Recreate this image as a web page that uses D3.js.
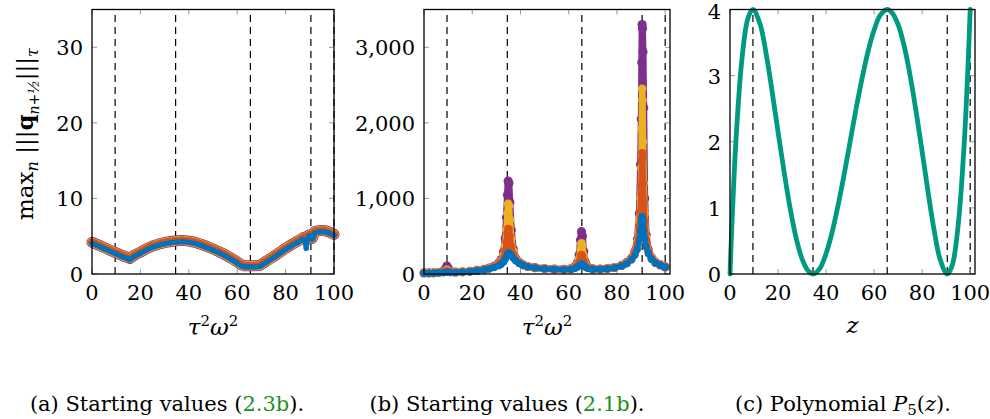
<!DOCTYPE html>
<html>
<head>
<meta charset="utf-8">
<script src="https://cdn.jsdelivr.net/npm/d3@7"></script>
<style>
  body { margin: 0; background: #fff; }
</style>
</head>
<body>
<svg id="svg"></svg>
<script>
// shared vertical markers (extrema of P5)
const markX = [9.55, 34.55, 65.45, 90.45, 100];

// panel (a): starting values (2.3b)
const xA = [0,2.5,5,7.5,10,12.5,15,15.7,17.5,20,22.5,25,27.5,30,32.5,35,37.5,40,42.5,45,47.5,50,52.5,55,57.5,60,61.5,63,65,67,69.5,72,75,77.5,80,82.5,85,87,88,88.5,89,89.5,90,91,92,94,96,98,100];
const aOrange = [4.2,3.85,3.5,3.15,2.8,2.45,2.15,2.05,2.5,2.9,3.35,3.7,3.95,4.15,4.3,4.4,4.45,4.35,4.2,3.95,3.65,3.3,2.95,2.55,2.1,1.6,1.25,1.1,1.1,1.1,1.15,1.7,2.3,2.85,3.4,3.9,4.35,4.75,4.9,4.5,5.0,5.1,5.2,4.7,5.6,5.75,5.75,5.55,5.25];
const aBlue = [4.05,3.7,3.35,3.0,2.65,2.3,2.0,1.9,2.35,2.75,3.2,3.55,3.8,4.0,4.15,4.25,4.3,4.2,4.05,3.8,3.5,3.15,2.8,2.4,1.95,1.45,1.1,0.95,0.95,0.95,1.0,1.55,2.15,2.7,3.25,3.75,4.2,4.6,4.3,3.4,4.6,4.95,5.05,4.6,5.45,5.6,5.6,5.4,5.1];

// panel (b): starting values (2.1b)
const xB = [0,2,4,6,8,9,9.5,10,11,13,16,19,22,25,27,29,31,32,33,33.7,34.2,34.6,34.9,35.2,35.6,36.2,37,38,39.5,41,43,46,50,54,58,61,62.5,63.5,64.3,64.9,65.3,65.7,66.2,67,68,70,73,76,79,82,84,86,87.5,88.5,89.3,89.8,90.1,90.3,90.45,90.6,90.8,91.1,91.5,92.1,93,94.5,96,98,100];
const bBlue = [10,10,12,14,18,22,26,24,20,20,25,32,42,55,68,85,110,130,160,195,230,260,275,280,270,245,210,175,140,115,95,80,68,62,58,62,72,88,110,128,135,130,112,88,72,62,62,68,80,105,135,185,250,330,450,580,680,740,760,740,680,580,470,360,270,190,145,115,90];
const bOrange = [12,12,14,16,22,32,40,34,24,22,27,34,45,58,72,92,125,155,210,300,420,540,600,590,500,360,260,190,145,118,97,82,70,64,60,66,82,110,160,225,255,235,170,110,80,65,64,70,83,110,142,200,280,400,620,820,1170,1500,1600,1550,1200,960,700,450,300,200,150,118,92];
const bYellow = [13,13,15,18,26,40,55,42,27,23,28,35,46,60,75,96,135,170,250,380,580,800,930,900,720,470,300,200,150,120,98,83,71,65,61,68,88,125,200,330,405,370,240,130,85,66,65,71,84,112,145,205,290,430,700,1000,1400,1920,2450,2300,1750,1200,800,480,310,205,152,119,93];
const bPurple = [14,14,16,20,35,70,105,75,32,24,29,36,47,62,78,100,145,190,290,470,750,1050,1230,1200,950,580,330,210,155,122,99,84,72,66,62,70,95,140,250,450,560,500,300,145,90,67,66,72,86,115,150,210,300,460,800,1450,2050,2800,3300,3250,2940,2200,1000,520,320,210,155,120,94];

// panel (c): polynomial P5(z)
const xC = [0,0.5,1,2.5,5,7.5,9.55,12.5,15,17.5,20,22.5,25,27.5,30,32.5,34.55,37.5,40,42.5,45,47.5,50,52.5,55,57.5,60,62.5,65.45,67.5,70,72.5,75,77.5,80,82.5,85,87.5,90.45,92.5,95,97.5,99,99.5,100];
const pC = [0,0.48,0.92,2.03,3.26,3.87,4,3.78,3.34,2.77,2.15,1.55,1,0.55,0.23,0.05,0,0.09,0.31,0.63,1.04,1.5,2,2.5,2.96,3.37,3.69,3.91,4,3.95,3.77,3.45,3,2.45,1.85,1.23,0.66,0.22,0,0.13,0.74,1.97,3.08,3.52,4];

const yTicksA = [0,10,20,30];
const yTicksB = [0,1000,2000,3000];
const yTicksC = [0,1,2,3,4];
const xTicks = [0,20,40,60,80,100];

const colors = { blue: "#0072BD", orange: "#D95319", yellow: "#EDB120", purple: "#7E2F8E", teal: "#009A80", ref: "#1f8f1f" };
const serif = "'DejaVu Serif', 'Liberation Serif', serif";

const width = 990, height = 419;
const svg = d3.select("#svg").attr("width", width).attr("height", height)
  .attr("font-family", serif);

function makePanel(opt) {
  const x = d3.scaleLinear().domain(opt.xDomain).range([opt.left, opt.right]);
  const y = d3.scaleLinear().domain(opt.yDomain).range([274, 9.5]);
  const g = svg.append("g");

  // vertical dashed markers
  g.selectAll("line.mark").data(markX).enter().append("line")
    .attr("x1", d => x(d)).attr("x2", d => x(d))
    .attr("y1", y.range()[0]).attr("y2", y.range()[1])
    .attr("stroke", "#000").attr("stroke-width", 1.2)
    .attr("stroke-dasharray", "7,5");

  // inner tick marks on all four sides
  const tl = 5;
  xTicks.forEach(t => {
    g.append("line").attr("x1", x(t)).attr("x2", x(t)).attr("y1", 274).attr("y2", 274 - tl).attr("stroke", "#999");
    g.append("line").attr("x1", x(t)).attr("x2", x(t)).attr("y1", 9.5).attr("y2", 9.5 + tl).attr("stroke", "#999");
  });
  opt.yTicks.forEach(t => {
    g.append("line").attr("x1", opt.left).attr("x2", opt.left + tl).attr("y1", y(t)).attr("y2", y(t)).attr("stroke", "#999");
    g.append("line").attr("x1", opt.right).attr("x2", opt.right - tl).attr("y1", y(t)).attr("y2", y(t)).attr("stroke", "#999");
  });

  // tick labels
  g.selectAll("text.xt").data(xTicks).enter().append("text")
    .attr("x", d => x(d)).attr("y", 300)
    .attr("text-anchor", "middle").attr("font-size", 21)
    .attr("font-family", serif)
    .text(d => d);
  g.selectAll("text.yt").data(opt.yTicks).enter().append("text")
    .attr("x", opt.left - 9).attr("y", d => Math.max(y(d) + 8, 19))
    .attr("text-anchor", "end").attr("font-size", 21)
    .attr("font-family", serif)
    .text(d => opt.fmt(d));

  return { g, x, y };
}

function drawSeries(p, xs, ys, color, lw, r, curve) {
  const pts = xs.map((d, i) => [d, ys[i]]);
  const line = d3.line().x(d => p.x(d[0])).y(d => p.y(d[1])).curve(curve || d3.curveLinear);
  p.g.append("path").datum(pts).attr("d", line)
    .attr("fill", "none").attr("stroke", color).attr("stroke-width", lw)
    .attr("stroke-linejoin", "round").attr("stroke-linecap", "round");
  if (r > 0) {
    p.g.append("g").selectAll("circle").data(pts).enter().append("circle")
      .attr("cx", d => p.x(d[0])).attr("cy", d => p.y(d[1])).attr("r", r)
      .attr("fill", color);
  }
}

function frame(p) {
  p.g.append("rect")
    .attr("x", p.x.range()[0]).attr("y", 9.5)
    .attr("width", p.x.range()[1] - p.x.range()[0]).attr("height", 274 - 9.5)
    .attr("fill", "none").attr("stroke", "#000").attr("stroke-width", 1.3);
}

// (a)
const pa = makePanel({ left: 92, right: 334, xDomain: [0, 100], yDomain: [0, 35], yTicks: yTicksA, fmt: d => d });
drawSeries(pa, xA, aOrange, colors.purple, 11, 0);
drawSeries(pa, xA, aOrange, colors.yellow, 9.5, 0);
drawSeries(pa, xA, aOrange, colors.orange, 8, 0);
drawSeries(pa, xA, aBlue, colors.blue, 5, 2.6);
frame(pa);

// (b)
const pb = makePanel({ left: 424, right: 670, xDomain: [0, 102], yDomain: [0, 3500], yTicks: yTicksB, fmt: d3.format(",") });
drawSeries(pb, xB, bPurple, colors.purple, 7, 4.6);
drawSeries(pb, xB, bYellow, colors.yellow, 6.5, 4.3);
drawSeries(pb, xB, bOrange, colors.orange, 6, 4.0);
drawSeries(pb, xB, bBlue, colors.blue, 5, 3.6);
frame(pb);

// (c)
const pc = makePanel({ left: 730, right: 975, xDomain: [0, 102], yDomain: [0, 4], yTicks: yTicksC, fmt: d => d });
drawSeries(pc, xC, pC, colors.teal, 4.8, 0, d3.curveCatmullRom);
frame(pc);

// y label of (a)
const yl = svg.append("text").attr("transform", "translate(33,134) rotate(-90)")
  .attr("text-anchor", "middle").attr("font-size", 23).attr("font-family", serif);
yl.append("tspan").text("max");
yl.append("tspan").attr("font-style", "italic").attr("font-size", 16).attr("dy", 5).text("n");
yl.append("tspan").attr("dy", -5).text(" |||");
yl.append("tspan").attr("font-weight", "bold").text("q");
yl.append("tspan").attr("font-style", "italic").attr("font-size", 14).attr("dy", 6).text("n+½");
yl.append("tspan").attr("dy", -6).text("|||");
yl.append("tspan").attr("font-style", "italic").attr("font-size", 16).attr("dy", 5).text("τ");

// x labels
function tauOmega(cx) {
  const t = svg.append("text").attr("x", cx).attr("y", 335).attr("text-anchor", "middle")
    .attr("font-size", 23).attr("font-family", serif);
  t.append("tspan").attr("font-style", "italic").text("τ");
  t.append("tspan").attr("font-size", 15).attr("dy", -9).text("2");
  t.append("tspan").attr("font-style", "italic").attr("dy", 9).text("ω");
  t.append("tspan").attr("font-size", 15).attr("dy", -9).text("2");
}
tauOmega(pa.x(50));
tauOmega(pb.x(51));
svg.append("text").attr("x", pc.x(51)).attr("y", 333).attr("text-anchor", "middle")
  .attr("font-size", 23).attr("font-style", "italic").attr("font-family", serif).text("z");

// captions
function caption(cx, parts) {
  const t = svg.append("text").attr("x", cx).attr("y", 411).attr("text-anchor", "middle")
    .attr("font-size", 21).attr("font-family", serif);
  parts.forEach(p => {
    const s = t.append("tspan").text(p.text);
    if (p.color) s.attr("fill", p.color);
    if (p.italic) s.attr("font-style", "italic");
    if (p.dy) s.attr("dy", p.dy);
    if (p.size) s.attr("font-size", p.size);
  });
}
caption(167, [{ text: "(a) Starting values (" }, { text: "2.3b", color: colors.ref }, { text: ")." }]);
caption(507, [{ text: "(b) Starting values (" }, { text: "2.1b", color: colors.ref }, { text: ")." }]);
caption(843, [{ text: "(c) Polynomial " }, { text: "P", italic: true }, { text: "5", size: 15, dy: 4 }, { text: "(", dy: -4 }, { text: "z", italic: true }, { text: ")." }]);
</script>
</body>
</html>
